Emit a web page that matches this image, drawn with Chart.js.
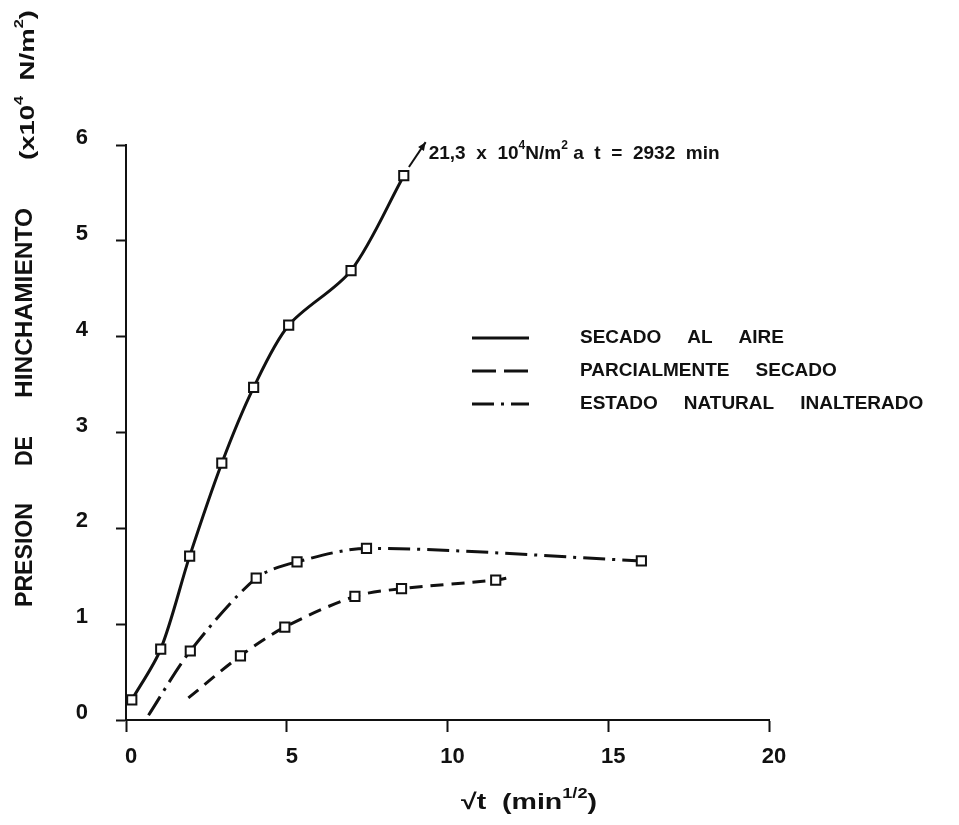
<!DOCTYPE html>
<html>
<head>
<meta charset="utf-8">
<script src="https://cdn.jsdelivr.net/npm/chart.js@4.4.0/dist/chart.umd.min.js"></script>
<style>
    html, body { margin: 0; padding: 0; background: #fff; }
    #wrap { width: 959px; height: 825px; position: relative; }
</style>
</head>
<body>
<div id="wrap"><canvas id="jsChart"></canvas></div>
<script>
// ---- data ----
const xTicks = [0, 5, 10, 15, 20]
const yTicks = [0, 1, 2, 3, 4, 5, 6]
const seriesNames = [['SECADO', 'AL', 'AIRE'], ['PARCIALMENTE', 'SECADO'], ['ESTADO', 'NATURAL', 'INALTERADO']]

// secado al aire (continua)
const airX = [0.18, 1.08, 1.98, 2.98, 3.97, 5.06, 7.0, 8.64]
const airY = [0.21, 0.74, 1.71, 2.68, 3.47, 4.12, 4.69, 5.68]
// parcialmente secado (trazos)
const partX = [1.94, 3.56, 4.94, 7.12, 8.57, 11.5, 11.96]
const partY = [0.23, 0.67, 0.97, 1.29, 1.37, 1.46, 1.49]
const partMark = [0, 1, 1, 1, 1, 1, 0]
// estado natural inalterado (trazo y punto)
const natX = [0.7, 2.0, 4.05, 5.32, 7.48, 16.03]
const natY = [0.05, 0.72, 1.48, 1.65, 1.79, 1.66]
const natMark = [0, 1, 1, 1, 1, 1]

// flecha hacia el valor final fuera de escala
const arrowFrom = [8.8, 5.77]
const arrowTo = [9.32, 6.03]

const FONT = '"Liberation Sans", Arial, sans-serif'
const INK = '#111'

function toPoints(xs, ys) {
    return xs.map((x, i) => ({ x: x, y: ys[i] }))
}

function drawRich(ctx, parts, x, y, size) {
    let cx = x
    parts.forEach(([t, sup]) => {
        ctx.font = `bold ${sup ? Math.round(size * 0.62) : size}px ${FONT}`
        ctx.fillText(t, cx, sup ? y - size * 0.42 : y)
        cx += ctx.measureText(t).width
    })
    return cx - x
}

function richWidth(ctx, parts, size) {
    let w = 0
    parts.forEach(([t, sup]) => {
        ctx.font = `bold ${sup ? Math.round(size * 0.62) : size}px ${FONT}`
        w += ctx.measureText(t).width
    })
    return w
}

// draws parts squeezed/stretched to a given width
function fitRich(ctx, parts, x, y, size, targetW) {
    let w = richWidth(ctx, parts, size)
    ctx.save()
    ctx.translate(x, y)
    ctx.scale(targetW / w, 1)
    drawRich(ctx, parts, 0, 0, size)
    ctx.restore()
}

const textPlugin = {
    id: 'figureText',
    afterDraw(chart) {
        let ctx = chart.ctx
        let xs = chart.scales.x
        let ys = chart.scales.y
        ctx.save()
        ctx.fillStyle = INK
        ctx.strokeStyle = INK
        ctx.textBaseline = 'middle'
        ctx.textAlign = 'left'

        // y axis title, rotated
        ctx.save()
        ctx.translate(26, 0)
        ctx.rotate(-Math.PI / 2)
        fitRich(ctx, [['PRESION']], -607, 0, 23, 104)
        fitRich(ctx, [['DE']], -466, 0, 23, 30)
        fitRich(ctx, [['HINCHAMIENTO']], -398, 0, 23, 190)
        fitRich(ctx, [['(x10'], ['4', true], ['  N/m'], ['2', true], [')']], -160, 2, 20, 150)
        ctx.restore()

        // x axis title
        fitRich(ctx, [['√t'], ['  (min'], ['1/2', true], [')']], 461, 803, 22, 136)

        // arrow to off-scale value
        let ax0 = xs.getPixelForValue(arrowFrom[0])
        let ay0 = ys.getPixelForValue(arrowFrom[1])
        let ax1 = xs.getPixelForValue(arrowTo[0])
        let ay1 = ys.getPixelForValue(arrowTo[1])
        ctx.lineWidth = 2
        ctx.setLineDash([])
        ctx.beginPath()
        ctx.moveTo(ax0, ay0)
        ctx.lineTo(ax1, ay1)
        ctx.stroke()
        let ang = Math.atan2(ay1 - ay0, ax1 - ax0)
        ctx.beginPath()
        ctx.moveTo(ax1, ay1)
        ctx.lineTo(ax1 - 9 * Math.cos(ang - 0.4), ay1 - 9 * Math.sin(ang - 0.4))
        ctx.lineTo(ax1 - 9 * Math.cos(ang + 0.4), ay1 - 9 * Math.sin(ang + 0.4))
        ctx.closePath()
        ctx.fill()
        fitRich(ctx, [['21,3'], ['  x  '], ['10'], ['4', true], ['N/m'], ['2', true], [' a  t  =  2932  min']],
            ax1 + 3, ay1 + 12, 19, 291)

        // legend
        let rows = [338, 371, 404]
        let dashes = [[], [24, 8], [22, 7, 3, 7]]
        rows.forEach((ry, i) => {
            ctx.lineWidth = 3
            ctx.setLineDash(dashes[i])
            ctx.beginPath()
            ctx.moveTo(472, ry)
            ctx.lineTo(529, ry)
            ctx.stroke()
            ctx.setLineDash([])
            ctx.font = `bold 19px ${FONT}`
            let tx = 580
            seriesNames[i].forEach(word => {
                ctx.fillText(word, tx, ry)
                tx += ctx.measureText(word).width + 26
            })
        })
        ctx.restore()
    }
}

function initChart() {
    let element = document.getElementById('jsChart')
    let square = {
        pointStyle: 'rect',
        pointBackgroundColor: '#fff',
        pointBorderColor: INK,
        pointBorderWidth: 2,
        borderColor: INK,
        borderWidth: 3,
        showLine: true,
        tension: 0.3,
        fill: false
    }
    let tickFont = { family: FONT, size: 22, weight: 'bold' }

    new Chart(element, {
        type: 'scatter',
        data: {
            datasets: [
                Object.assign({}, square, {
                    label: seriesNames[0].join(' '),
                    data: toPoints(airX, airY),
                    pointRadius: 6.5
                }),
                Object.assign({}, square, {
                    label: seriesNames[1].join(' '),
                    data: toPoints(partX, partY),
                    borderDash: [13, 8],
                    pointRadius: partMark.map(m => m ? 6.5 : 0)
                }),
                Object.assign({}, square, {
                    label: seriesNames[2].join(' '),
                    data: toPoints(natX, natY),
                    borderDash: [22, 7, 3, 7],
                    pointRadius: natMark.map(m => m ? 6.5 : 0)
                })
            ]
        },
        options: {
            responsive: true,
            maintainAspectRatio: false,
            animation: false,
            layout: { padding: { top: 145, right: 190, bottom: 0, left: 0 } },
            plugins: {
                legend: { display: false },
                tooltip: { enabled: false }
            },
            scales: {
                x: {
                    type: 'linear',
                    min: xTicks[0],
                    max: xTicks[xTicks.length - 1],
                    afterBuildTicks: scale => { scale.ticks = xTicks.map(v => ({ value: v })) },
                    afterFit: scale => { scale.height = 105 },
                    grid: { drawOnChartArea: false, drawTicks: true, tickLength: 12, tickWidth: 2, tickColor: INK },
                    border: { display: true, color: INK, width: 2 },
                    ticks: { font: tickFont, color: INK, padding: 12, labelOffset: 5, maxRotation: 0 }
                },
                y: {
                    type: 'linear',
                    min: yTicks[0],
                    max: yTicks[yTicks.length - 1],
                    afterBuildTicks: scale => { scale.ticks = yTicks.map(v => ({ value: v })) },
                    afterFit: scale => { scale.width = 126 },
                    grid: { drawOnChartArea: false, drawTicks: true, tickLength: 10, tickWidth: 2, tickColor: INK },
                    border: { display: true, color: INK, width: 2 },
                    ticks: { font: tickFont, color: INK, padding: 28, labelOffset: -7 }
                }
            }
        },
        plugins: [textPlugin]
    })

    return true
}

initChart()
</script>
</body>
</html>
